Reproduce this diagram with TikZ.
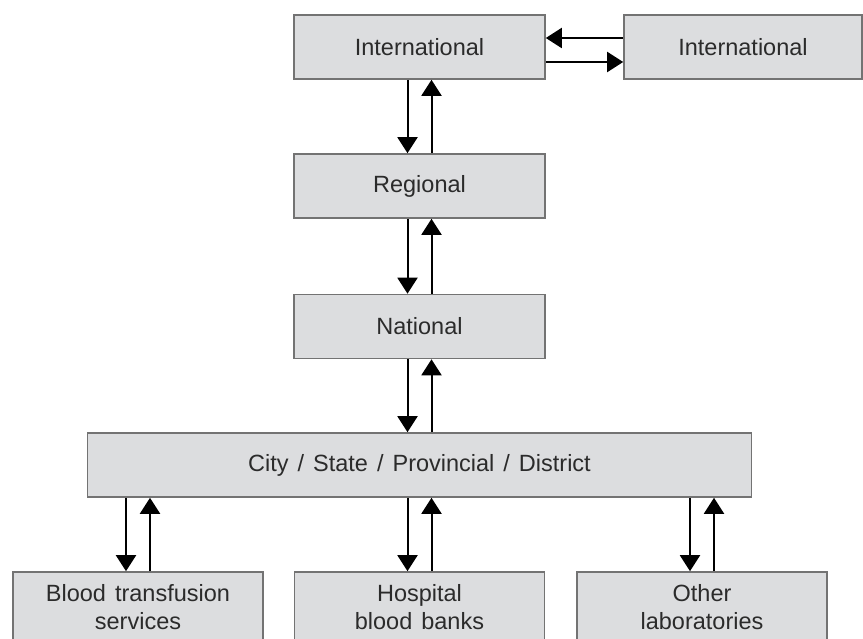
\documentclass[tikz,border=0pt]{standalone}
\usepackage{fontspec}
\setmainfont{Liberation Sans}
\usetikzlibrary{arrows.meta}
\definecolor{boxfill}{HTML}{DCDDDF}
\definecolor{boxline}{HTML}{737373}
\definecolor{txt}{HTML}{2B2B2B}
\newcommand\bxfont{\fontsize{23.5}{28}\selectfont\spaceskip=9pt plus 2pt\relax}
\tikzset{
  box/.style={draw=boxline, line width=1.6pt, fill=boxfill, text=txt, align=center,
    inner sep=0pt, font=\bxfont},
  arr/.style={draw=black, line width=2pt, -{Triangle[length=16pt,width=20pt]}}
}
\begin{document}
\begin{tikzpicture}[x=1pt,y=-1pt]
\useasboundingbox (0,0) rectangle (863,639);
\clip (0,0) rectangle (863,639);
\fill[white] (0,0) rectangle (863,639);
\node[box, minimum width=251pt, minimum height=64pt] (intl) at (419.5,47) {International};
\node[box, minimum width=238pt, minimum height=64pt] (intl2) at (743,47) {International};
\node[box, minimum width=251pt, minimum height=64pt] (reg) at (419.5,186) {Regional};
\node[box, minimum width=251pt, minimum height=64pt] (nat) at (419.5,326.5) {National};
\node[box, minimum width=664pt, minimum height=64pt] (city) at (419.5,465) {City / State / Provincial / District};
\node[box, minimum width=250pt, minimum height=70pt] (blood) at (138,607) {Blood transfusion\\services};
\node[box, minimum width=250pt, minimum height=70pt] (hosp) at (419.5,607) {Hospital\\blood banks};
\node[box, minimum width=250pt, minimum height=70pt] (other) at (702,607) {Other\\laboratories};
% horizontal
\draw[arr] ([yshift=9pt]intl2.west) -- ([yshift=9pt]intl.east);
\draw[arr] ([yshift=-15pt]intl.east) -- ([yshift=-15pt]intl2.west);
% vertical main column
\draw[arr] ([xshift=-12pt]intl.south) -- ([xshift=-12pt]reg.north);
\draw[arr] ([xshift=12pt]reg.north) -- ([xshift=12pt]intl.south);
\draw[arr] ([xshift=-12pt]reg.south) -- ([xshift=-12pt]nat.north);
\draw[arr] ([xshift=12pt]nat.north) -- ([xshift=12pt]reg.south);
\draw[arr] ([xshift=-12pt]nat.south) -- ([xshift=-12pt]city.north);
\draw[arr] ([xshift=12pt]city.north) -- ([xshift=12pt]nat.south);
% bottom
\foreach \b in {blood,hosp,other}{
  \path ([xshift=-12pt]\b.north) coordinate (\b-d) ([xshift=12pt]\b.north) coordinate (\b-u);
  \draw[arr] (\b-d |- city.south) -- (\b-d);
  \draw[arr] (\b-u) -- (\b-u |- city.south);
}
\end{tikzpicture}
\end{document}
